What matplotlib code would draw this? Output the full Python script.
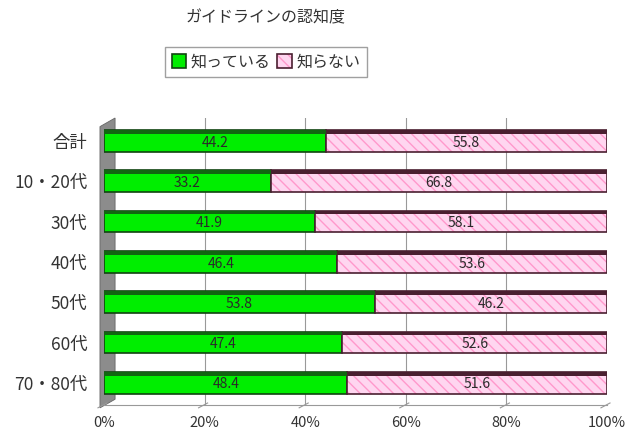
import matplotlib.pyplot as plt
from matplotlib.patches import Polygon
import numpy as np

plt.rcParams['font.family'] = ['Noto Sans CJK JP', 'DejaVu Sans']

# data
categories = ['合計', '10・20代', '30代', '40代', '50代', '60代', '70・80代']
know = [44.2, 33.2, 41.9, 46.4, 53.8, 47.4, 48.4]
dont_know = [55.8, 66.8, 58.1, 53.6, 46.2, 52.6, 51.6]
series_names = ['知っている', '知らない']
xticks = [0, 20, 40, 60, 80, 100]
xticklabels = ['0%', '20%', '40%', '60%', '80%', '100%']

fig = plt.figure(figsize=(6.25, 4.33), dpi=100)
ax = fig.add_axes([104 / 625, 1 - 405 / 433, 503 / 625, 287 / 433])

y = np.arange(len(categories))
h = 0.54

# grid
for xv in xticks[1:-1]:
    ax.axvline(xv, color='#999999', lw=0.8, zorder=0)

# left wall (pseudo 3d)
wall = Polygon([(-0.008, -0.01), (0.022, 0.02), (0.022, 1.0), (-0.008, 0.97)],
               closed=True, transform=ax.transAxes, facecolor='#8c8c8c',
               edgecolor='#666666', lw=0.6, clip_on=False, zorder=1)
ax.add_patch(wall)

b1 = ax.barh(y, know, height=h, color='#00ee00', edgecolor='#114411',
             lw=1.2, zorder=3, label=series_names[0])
b2 = ax.barh(y, dont_know, left=know, height=h, color='#ffd6f0',
             edgecolor='#4a1f30', lw=1.2, hatch='\\\\\\', zorder=3,
             label=series_names[1])
# pink hatch lines instead of edge-coloured ones
for p in b2:
    p._hatch_color = (1.0, 0.6, 0.8, 1.0)

# darker top strip for 3d look
ax.barh(y - h / 2 + 0.045, know, height=0.09, color='#116611', lw=0, zorder=4)
ax.barh(y - h / 2 + 0.045, dont_know, left=know, height=0.09,
        color='#4a1f30', lw=0, zorder=4)

for yi, a, b in zip(y, know, dont_know):
    ax.text(a / 2, yi + 0.04, f'{a:.1f}', ha='center', va='center',
            fontsize=10, color='#2a2a2a', zorder=5)
    ax.text(a + b / 2, yi + 0.04, f'{b:.1f}', ha='center', va='center',
            fontsize=10, color='#2a2a2a', zorder=5)

# floor tick marks
for xv in xticks:
    ax.plot([xv - 1.2, xv + 0.6], [6.62, 6.5], color='#999999', lw=0.8,
            clip_on=False, zorder=1)

ax.set_xlim(0, 100)
ax.set_ylim(6.55, -0.57)
ax.set_yticks(y)
ax.set_yticklabels(categories, fontsize=12.5, color='#333333')
ax.set_xticks(xticks)
ax.set_xticklabels(xticklabels, fontsize=10.5, color='#333333')
ax.tick_params(length=0, pad=12)
ax.tick_params(axis='x', pad=8)
for s in ax.spines.values():
    s.set_visible(False)
ax.plot([0, 1], [0, 0], transform=ax.transAxes, color='#999999', lw=0.8,
        clip_on=False)

fig.text(266 / 625, 1 - 18 / 433, 'ガイドラインの認知度', ha='center',
         va='center', fontsize=11.5, color='#333333')
leg = fig.legend(handles=[b1, b2], labels=series_names, ncol=2,
                 loc='center', bbox_to_anchor=(266 / 625, 1 - 62 / 433),
                 fontsize=11.5, frameon=True, fancybox=False,
                 edgecolor='#888888', handlelength=0.9, handleheight=0.9,
                 handletextpad=0.3, columnspacing=0.4, borderpad=0.4)
for t in leg.get_texts():
    t.set_color('#333333')

fig.savefig('out.png', dpi=100)
